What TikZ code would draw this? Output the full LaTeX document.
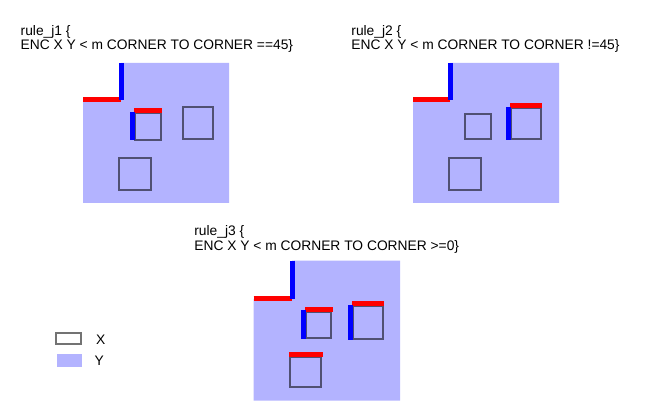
\documentclass[tikz,border=0pt]{standalone}
\usepackage{fontspec}
\setmainfont{Liberation Sans}
\definecolor{yblue}{RGB}{179,179,255}
\begin{document}
\begin{tikzpicture}[x=1pt,y=-1pt,
  yfill/.style={fill=yblue,draw=none},
  xbox/.style={draw=black,draw opacity=0.55,line width=2pt},
  redmark/.style={draw=red,line width=5pt},
  bluemark/.style={draw=blue,line width=5pt},
  lbl/.style={font=\fontsize{13.8}{16}\selectfont,inner sep=0pt,anchor=base west}]
\useasboundingbox (0,0) rectangle (650,411);
% ---------- panel 1
\node[lbl] (t1a) at (20.5,35.3) {rule\_j1 \{};
\node[lbl] (t1b) at (20.5,50) {ENC X Y < m CORNER TO CORNER ==45\}};
\fill[yfill] (121,63) -- (229,63) -- (229,203) -- (83,203) -- (83,100) -- (121,100) -- cycle;
\draw[redmark] (83,100) -- (121,100);
\draw[bluemark] (121,63) -- (121,100);
\draw[xbox] (135,113) rectangle (161,140);
\draw[redmark] (134,110.8) -- (162.3,110.8);
\draw[bluemark] (132.8,112.3) -- (132.8,140.3);
\draw[xbox] (182.5,107.5) rectangle (212.5,139.5);
\draw[xbox] (119.3,158.3) rectangle (151,189.7);
% ---------- panel 2
\node[lbl] (t2a) at (351.2,35.3) {rule\_j2 \{};
\node[lbl] (t2b) at (351.2,50) {ENC X Y < m CORNER TO CORNER !=45\}};
\fill[yfill] (450,63) -- (559,63) -- (559,203) -- (413,203) -- (413,100) -- (450,100) -- cycle;
\draw[redmark] (413,100) -- (450,100);
\draw[bluemark] (450,63) -- (450,100);
\draw[xbox] (464.7,113.7) rectangle (490.7,139.3);
\draw[xbox] (511.3,108.3) rectangle (540.7,139.3);
\draw[redmark] (510,105.8) -- (542.3,105.8);
\draw[bluemark] (508.8,107.3) -- (508.8,140);
\draw[xbox] (448.7,158.3) rectangle (481,189.7);
% ---------- panel 3
\node[lbl] (t3a) at (194.2,236) {rule\_j3 \{};
\node[lbl] (t3b) at (194.2,250.7) {ENC X Y < m CORNER TO CORNER >=0\}};
\fill[yfill] (292,260.7) -- (400,260.7) -- (400,400.7) -- (253.7,400.7) -- (253.7,299) -- (292,299) -- cycle;
\draw[redmark] (253.7,299) -- (292,299);
\draw[bluemark] (292.2,260.7) -- (292.2,299);
\draw[xbox] (306.3,312.3) rectangle (331.3,337.7);
\draw[redmark] (305.3,309.8) -- (333.3,309.8);
\draw[bluemark] (303.8,310) -- (303.8,339.3);
\draw[xbox] (353.3,306.3) rectangle (383,338.7);
\draw[redmark] (352.3,303.8) -- (384.3,303.8);
\draw[bluemark] (350.8,305.3) -- (350.8,340);
\draw[xbox] (290.3,357.3) rectangle (321.3,386.7);
\draw[redmark] (289.3,354.8) -- (322.7,354.8);
% ---------- legend
\draw[xbox] (56.3,333.3) rectangle (80.7,344.3);
\fill[yfill] (57,354) rectangle (81.7,366.7);
\node[lbl] (lx) at (96,344) {X};
\node[lbl] (ly) at (94.5,365) {Y};
\end{tikzpicture}
\end{document}
